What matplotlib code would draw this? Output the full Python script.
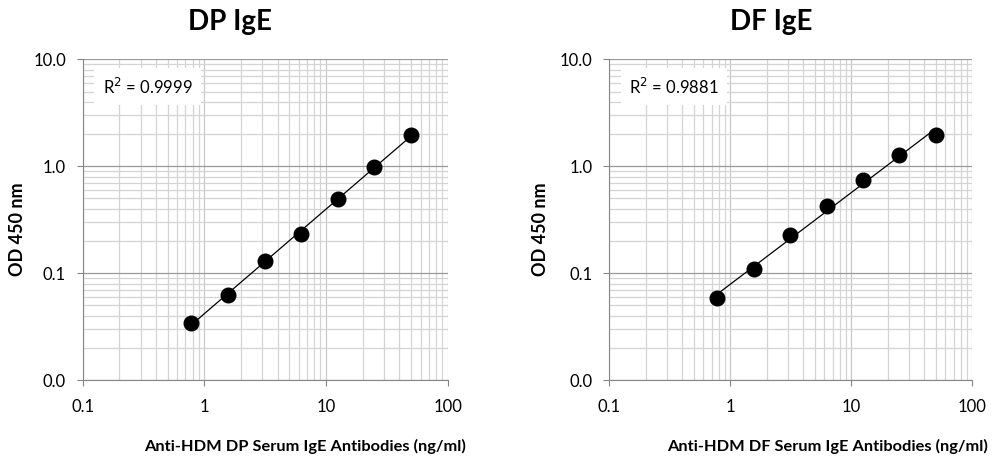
import numpy as np
import matplotlib
matplotlib.use("Agg")
import matplotlib.pyplot as plt
from matplotlib.ticker import FuncFormatter, LogLocator, FixedLocator

plt.rcParams['font.family'] = ['Lato', 'DejaVu Sans']

conc = [0.78, 1.56, 3.125, 6.25, 12.5, 25, 50]
dp_od = [0.034, 0.063, 0.130, 0.234, 0.493, 0.99, 1.945]
df_od = [0.058, 0.110, 0.226, 0.421, 0.743, 1.27, 1.96]
titles = ["DP IgE", "DF IgE"]
xlabels = ["Anti-HDM DP Serum IgE Antibodies (ng/ml)",
           "Anti-HDM DF Serum IgE Antibodies (ng/ml)"]
r2_labels = ["R$^2$ = 0.9999", "R$^2$ = 0.9881"]
series = [dp_od, df_od]

fig = plt.figure(figsize=(9.95, 4.59), dpi=100)
axes_rect = [[0.0831, 0.172, 0.3668, 0.6987], [0.6124, 0.172, 0.3648, 0.6987]]
xlabel_x = [0.307, 0.832]
ylabel_x = [0.018, 0.543]
title_x = [0.231, 0.775]

for i in range(2):
    ax = fig.add_axes(axes_rect[i])
    x = np.array(conc)
    y = np.array(series[i])
    ax.set_xscale('log')
    ax.set_yscale('log')
    ax.set_xlim(0.1, 100)
    ax.set_ylim(0.01, 10)
    # power trendline
    b, a = np.polyfit(np.log10(x), np.log10(y), 1)
    xf = np.array([x.min(), x.max()])
    ax.plot(xf, 10 ** (a + b * np.log10(xf)), color='black', lw=0.9, zorder=3)
    ax.plot(x, y, 'o', color='black', markersize=10.5, zorder=4)

    ax.xaxis.set_major_locator(FixedLocator([0.1, 1, 10, 100]))
    ax.yaxis.set_major_locator(FixedLocator([0.01, 0.1, 1, 10]))
    ax.xaxis.set_minor_locator(LogLocator(base=10, subs=np.arange(2, 10)))
    ax.yaxis.set_minor_locator(LogLocator(base=10, subs=np.arange(2, 10)))
    ax.xaxis.set_major_formatter(FuncFormatter(lambda v, p: f"{v:g}"))
    ax.yaxis.set_major_formatter(FuncFormatter(lambda v, p: f"{v:.1f}"))
    ax.xaxis.set_minor_formatter(FuncFormatter(lambda v, p: ""))
    ax.yaxis.set_minor_formatter(FuncFormatter(lambda v, p: ""))
    ax.yaxis.grid(True, which='major', color='#9a9a9a', lw=0.9)
    ax.xaxis.grid(True, which='major', color='#c8c8c8', lw=0.9)
    ax.grid(True, which='minor', color='#d4d4d4', lw=0.9)
    ax.set_axisbelow(True)
    for s in ['top', 'right']:
        ax.spines[s].set_visible(False)
    for s in ['left', 'bottom']:
        ax.spines[s].set_color('#868686')
    ax.tick_params(which='major', direction='out', length=4, color='#868686',
                   labelsize=12)
    ax.tick_params(axis='x', pad=10)
    ax.tick_params(axis='y', pad=8)
    ax.tick_params(which='minor', length=0)
    fig.text(title_x[i], 0.952, titles[i], ha='center', va='center',
             fontsize=20, fontweight='bold')
    fig.text(xlabel_x[i], 0.028, xlabels[i], ha='center', va='center',
             fontsize=11.8, fontweight='bold')
    fig.text(ylabel_x[i], 0.5, "OD 450 nm", ha='center', va='center',
             rotation=90, fontsize=13, fontweight='bold')
    ax.text(0.055, 0.915, r2_labels[i], transform=ax.transAxes, fontsize=12,
            ha='left', va='center', zorder=5,
            bbox=dict(facecolor='white', edgecolor='none', pad=6))

fig.savefig("out.png", dpi=100)
